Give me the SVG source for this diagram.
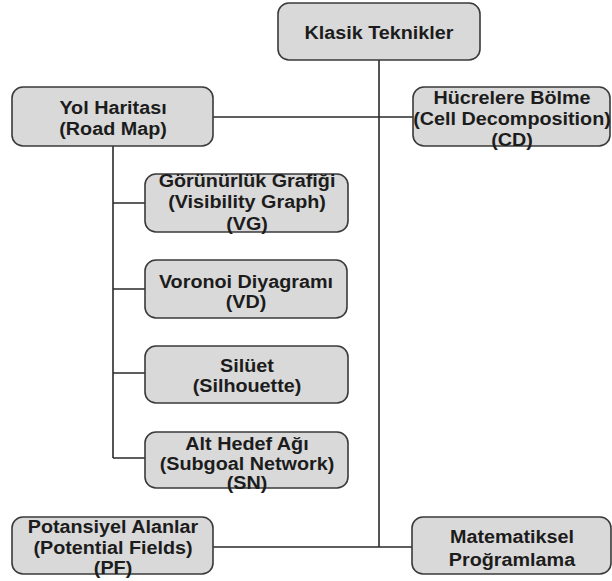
<svg xmlns="http://www.w3.org/2000/svg" width="612" height="581" viewBox="0 0 612 581">
  <style>
    .box { fill: #d9d9d9; stroke: #3a3a3a; stroke-width: 1.6; }
    .lbl { font-family: "Liberation Sans", Arial, sans-serif; font-weight: bold; font-size: 17.5px; fill: #1c1c1c; text-anchor: middle; }
    .conn { stroke: #2a2a2a; stroke-width: 1.6; fill: none; }
  </style>
  <rect width="612" height="581" fill="#ffffff"/>

  <g id="connectors">
    <path class="conn" d="M379 60 V547"/>
    <path class="conn" d="M213 117 H413"/>
    <path class="conn" d="M213 547 H412"/>
    <path class="conn" d="M113 146 V458"/>
    <path class="conn" d="M113 203 H145 M113 289 H145 M113 373 H145 M113 458 H145"/>
  </g>

  <!-- labels are set slightly wide: each label group is centred at its x and stretched horizontally -->
  <g id="klasik">
    <rect class="box" x="278" y="3" width="202" height="57" rx="11"/>
    <g transform="translate(379 0) scale(1.13 1)">
      <text class="lbl" x="0" y="39">Klasik Teknikler</text>
    </g>
  </g>

  <g id="yol">
    <rect class="box" x="12" y="87" width="201" height="59" rx="11"/>
    <g transform="translate(113 0) scale(1.13 1)">
      <text class="lbl" x="0" y="114">Yol Haritası</text>
      <text class="lbl" x="0" y="135">(Road Map)</text>
    </g>
  </g>

  <g id="hucre">
    <rect class="box" x="413" y="87" width="197" height="59" rx="11"/>
    <g transform="translate(512 0) scale(1.13 1)">
      <text class="lbl" x="0" y="104">Hücrelere Bölme</text>
      <text class="lbl" x="0" y="125">(Cell Decomposition)</text>
      <text class="lbl" x="0" y="146">(CD)</text>
    </g>
  </g>

  <g id="vg">
    <rect class="box" x="145" y="174" width="203" height="58" rx="11"/>
    <g transform="translate(247 0) scale(1.13 1)">
      <text class="lbl" x="0" y="187">Görünürlük Grafiği</text>
      <text class="lbl" x="0" y="208">(Visibility Graph)</text>
      <text class="lbl" x="0" y="230">(VG)</text>
    </g>
  </g>

  <g id="vd">
    <rect class="box" x="145" y="260" width="202" height="58" rx="11"/>
    <g transform="translate(246 0) scale(1.13 1)">
      <text class="lbl" x="0" y="288">Voronoi Diyagramı</text>
      <text class="lbl" x="0" y="308">(VD)</text>
    </g>
  </g>

  <g id="silhouette">
    <rect class="box" x="145" y="346" width="203" height="57" rx="11"/>
    <g transform="translate(247 0) scale(1.13 1)">
      <text class="lbl" x="0" y="372">Silüet</text>
      <text class="lbl" x="0" y="392">(Silhouette)</text>
    </g>
  </g>

  <g id="sn">
    <rect class="box" x="145" y="432" width="203" height="56" rx="11"/>
    <g transform="translate(247 0) scale(1.13 1)">
      <text class="lbl" x="0" y="450">Alt Hedef Ağı</text>
      <text class="lbl" x="0" y="470">(Subgoal Network)</text>
      <text class="lbl" x="0" y="489">(SN)</text>
    </g>
  </g>

  <g id="pf">
    <rect class="box" x="12" y="517" width="201" height="57" rx="11"/>
    <g transform="translate(113 0) scale(1.13 1)">
      <text class="lbl" x="0" y="533">Potansiyel Alanlar</text>
      <text class="lbl" x="0" y="554">(Potential Fields)</text>
      <text class="lbl" x="0" y="574">(PF)</text>
    </g>
  </g>

  <g id="mp">
    <rect class="box" x="412" y="517" width="199" height="57" rx="11"/>
    <g transform="translate(512 0) scale(1.13 1)">
      <text class="lbl" x="0" y="543">Matematiksel</text>
      <text class="lbl" x="0" y="566">Proğramlama</text>
    </g>
  </g>
</svg>
